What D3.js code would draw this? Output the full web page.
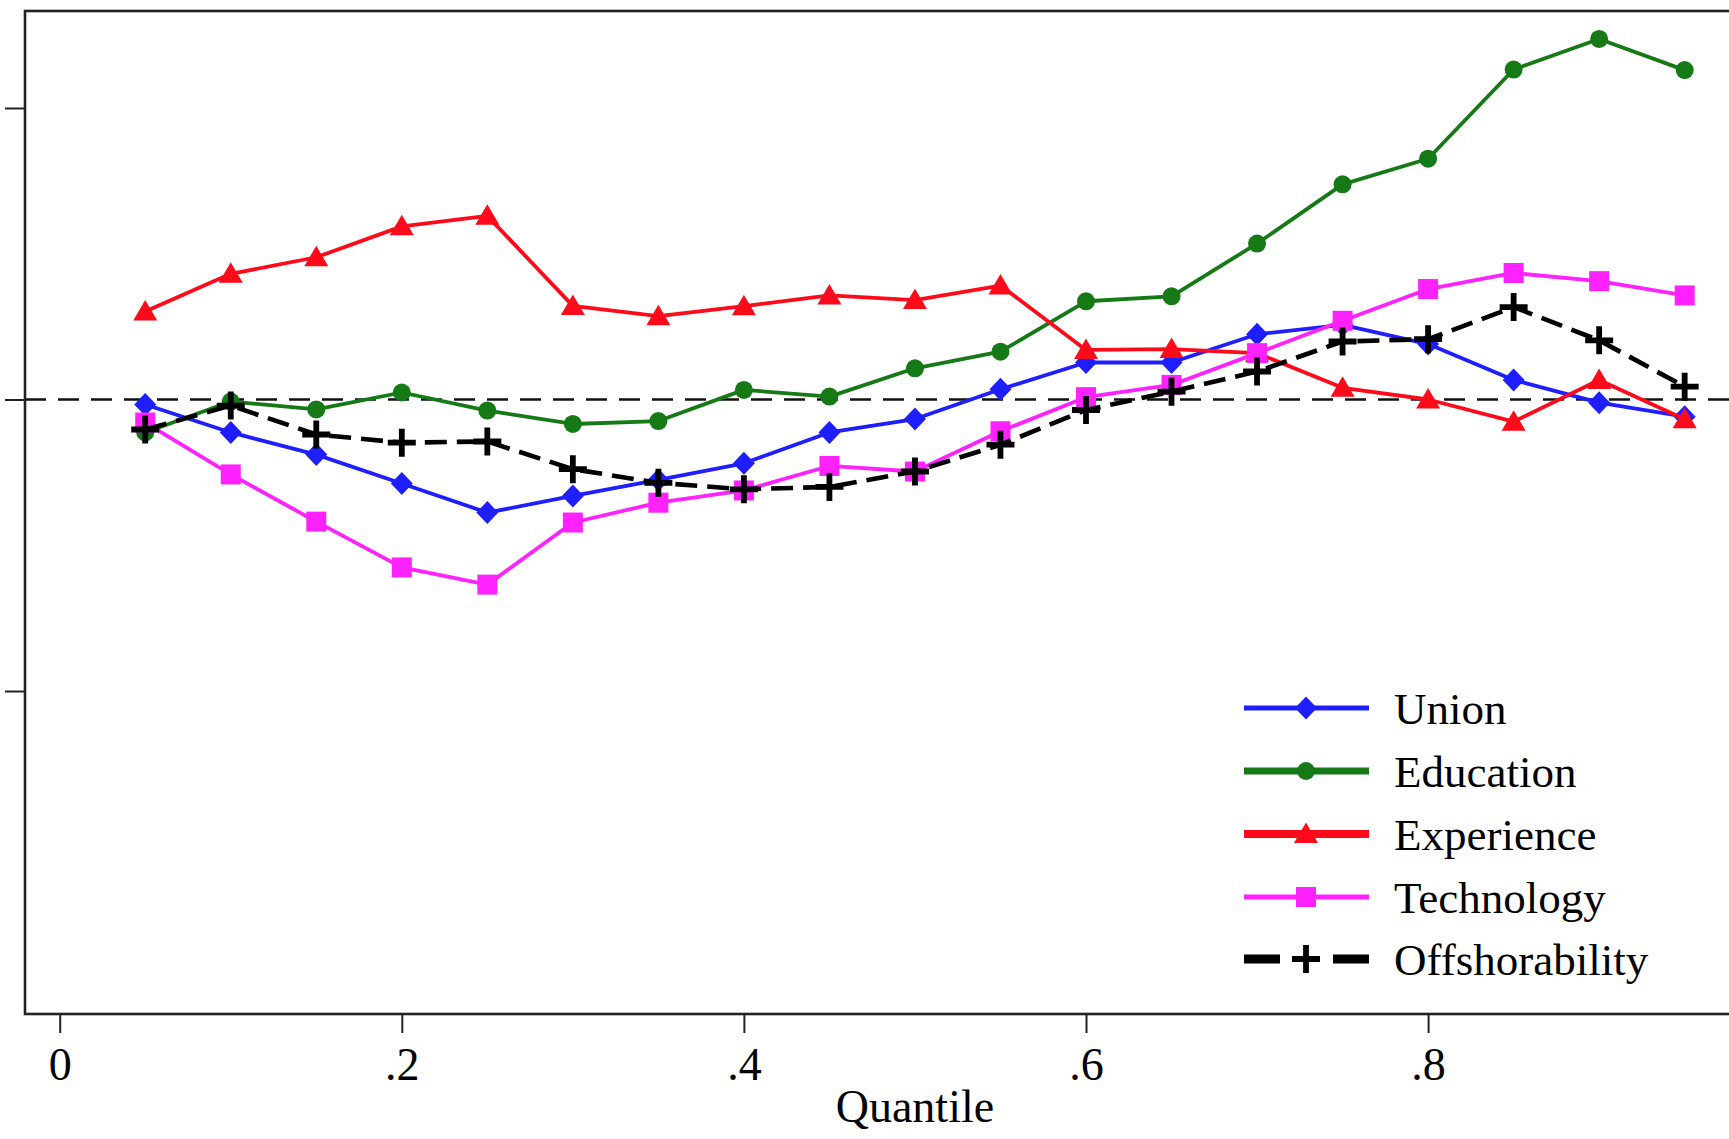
<!DOCTYPE html>
<html>
<head>
<meta charset="utf-8">
<script src="https://cdn.jsdelivr.net/npm/d3@7"></script>
<style>
  html, body { margin: 0; padding: 0; background: #fff; overflow: hidden; }
  svg { display: block; }
</style>
</head>
<body>
<svg id="chart" width="1729" height="1139"></svg>
<script>
// ---- data ----
const quantiles = [0.05,0.10,0.15,0.20,0.25,0.30,0.35,0.40,0.45,0.50,0.55,0.60,0.65,0.70,0.75,0.80,0.85,0.90,0.95];
const union = [-0.0017,-0.0113,-0.0189,-0.0288,-0.0388,-0.0331,-0.0276,-0.0219,-0.0113,-0.0067,0.0035,0.0127,0.0127,0.0224,0.0256,0.0190,0.0067,-0.0011,-0.0059];
const education = [-0.0113,-0.0007,-0.0034,0.0024,-0.0038,-0.0084,-0.0074,0.0033,0.0010,0.0107,0.0164,0.0337,0.0354,0.0535,0.0738,0.0826,0.1132,0.1237,0.1130];
const experience = [0.0302,0.0431,0.0488,0.0594,0.0630,0.0321,0.0286,0.0320,0.0357,0.0341,0.0391,0.0170,0.0173,0.0159,0.0040,0.0000,-0.0076,0.0067,-0.0068];
const technology = [-0.0079,-0.0257,-0.0419,-0.0576,-0.0635,-0.0422,-0.0354,-0.0312,-0.0228,-0.0247,-0.0109,0.0008,0.0050,0.0159,0.0270,0.0379,0.0434,0.0406,0.0357];
const offshorability = [-0.0103,-0.0021,-0.0120,-0.0148,-0.0144,-0.0239,-0.0286,-0.0308,-0.0300,-0.0247,-0.0155,-0.0036,0.0027,0.0096,0.0199,0.0207,0.0317,0.0203,0.0044];
const seriesNames = ["Union","Education","Experience","Technology","Offshorability"];
const xTicks = [0, 0.2, 0.4, 0.6, 0.8];
const xTickLabels = ["0", ".2", ".4", ".6", ".8"];
const yTicks = [-0.1, 0, 0.1];
const xTitle = "Quantile";

// ---- styles ----
const styles = {
  Union:          {color: "#1e1eff", width: 3.8, dash: null,    marker: "diamond",  legendWidth: 5},
  Education:      {color: "#157a15", width: 3.8, dash: null,    marker: "circle",   legendWidth: 7},
  Experience:     {color: "#ff0a1a", width: 3.8, dash: null,    marker: "triangle", legendWidth: 8},
  Technology:     {color: "#ff22ff", width: 3.8, dash: null,    marker: "square",   legendWidth: 5},
  Offshorability: {color: "#000000", width: 4.6, dash: "22,10", marker: "plus",     legendWidth: 9}
};
const seriesValues = [union, education, experience, technology, offshorability];
const series = seriesNames.map((n, i) => ({name: n, values: seriesValues[i].map((v, j) => ({q: quantiles[j], v}))}));

const svg = d3.select("#chart");
const FONT = "'Liberation Serif', 'Times New Roman', serif";
const frame = {left: 25, top: 11, bottom: 1014, right: 1805};

const x = d3.scaleLinear().domain([0, 1]).range([59.7, 1770.2]);
const y = d3.scaleLinear().domain([-0.1, 0.1]).range([691, 108]);

// plot region frame
svg.append("rect")
  .attr("x", frame.left).attr("y", frame.top)
  .attr("width", frame.right - frame.left).attr("height", frame.bottom - frame.top)
  .attr("fill", "none").attr("stroke", "#222").attr("stroke-width", 2.6);

// zero reference line
svg.append("line")
  .attr("x1", frame.left).attr("x2", frame.right)
  .attr("y1", y(0)).attr("y2", y(0))
  .attr("stroke", "#111").attr("stroke-width", 2.4)
  .attr("stroke-dasharray", "21,12");

// x axis
const xAxis = svg.append("g")
  .attr("transform", `translate(0,${frame.bottom})`)
  .call(d3.axisBottom(x).tickValues(xTicks).tickSize(19)
        .tickFormat((d, i) => xTickLabels[i]));
xAxis.select(".domain").remove();
xAxis.selectAll(".tick line").attr("stroke", "#222").attr("stroke-width", 2);
xAxis.selectAll(".tick text")
  .attr("y", 66).attr("dy", 0)
  .attr("fill", "#000")
  .style("font-family", FONT).style("font-size", "46px");

// y axis (ticks only; labels fall outside the cropped picture)
const yAxis = svg.append("g")
  .attr("transform", `translate(${frame.left},0)`)
  .call(d3.axisLeft(y).tickValues(yTicks).tickSize(20).tickFormat(""));
yAxis.select(".domain").remove();
yAxis.selectAll(".tick line").attr("stroke", "#222").attr("stroke-width", 2);

// x title
svg.append("text")
  .attr("x", x(0.5)).attr("y", 1122)
  .attr("text-anchor", "middle")
  .style("font-family", FONT).style("font-size", "46px")
  .text(xTitle);

// marker drawing
function drawMarker(g, type, color) {
  if (type === "diamond") {
    g.append("path").attr("d", "M0,-11.5L11,0L0,11.5L-11,0Z").attr("fill", color);
  } else if (type === "circle") {
    g.append("circle").attr("r", 9).attr("fill", color);
  } else if (type === "triangle") {
    g.append("path").attr("d", "M0,-11.5L12,9L-12,9Z").attr("fill", color);
  } else if (type === "square") {
    g.append("rect").attr("x", -10).attr("y", -10)
      .attr("width", 20).attr("height", 20).attr("fill", color);
  } else if (type === "plus") {
    g.append("path").attr("d", "M-14,0H14M0,-14V14")
      .attr("stroke", color).attr("stroke-width", 5.8).attr("fill", "none");
  }
}

const line = d3.line().x(d => x(d.q)).y(d => y(d.v));

series.forEach(s => {
  const st = styles[s.name];
  const g = svg.append("g").attr("class", "series");
  g.append("path").datum(s.values)
    .attr("d", line)
    .attr("fill", "none")
    .attr("stroke", st.color)
    .attr("stroke-width", st.width)
    .attr("stroke-linejoin", "round")
    .attr("stroke-dasharray", st.dash);
  g.selectAll("g.pt").data(s.values).enter().append("g")
    .attr("class", "pt")
    .attr("transform", d => `translate(${x(d.q)},${y(d.v)})`)
    .each(function() { drawMarker(d3.select(this), st.marker, st.color); });
});

// legend
const legendRows = [708, 771, 834, 897, 959];
const legend = svg.append("g").attr("class", "legend");
seriesNames.forEach((n, i) => {
  const st = styles[n];
  const ly = legendRows[i];
  const gl = legend.append("g").attr("transform", `translate(0,${ly})`);
  gl.append("line")
    .attr("x1", 1244).attr("x2", 1369).attr("y1", 0).attr("y2", 0)
    .attr("stroke", st.color).attr("stroke-width", st.legendWidth)
    .attr("stroke-dasharray", n === "Offshorability" ? "36,53,36" : null);
  const gm = gl.append("g").attr("transform", "translate(1306,0)");
  drawMarker(gm, st.marker, st.color);
  gl.append("text")
    .attr("x", 1394).attr("y", 16)
    .style("font-family", FONT).style("font-size", "45px")
    .attr("fill", "#000")
    .text(n);
});
</script>
</body>
</html>
